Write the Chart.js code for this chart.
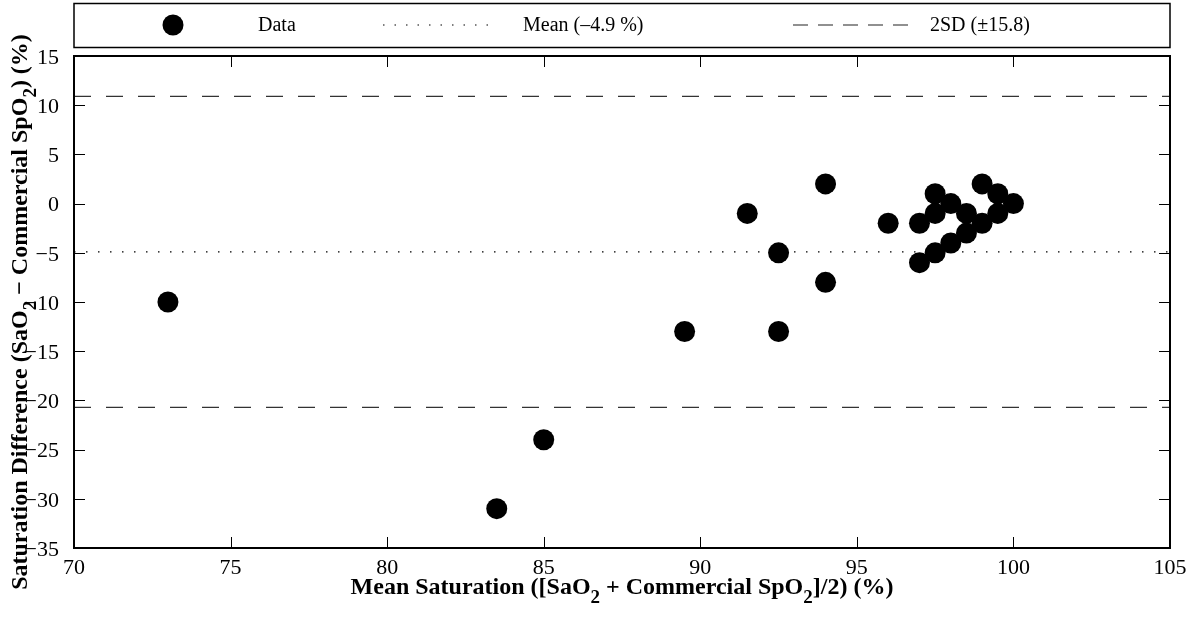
<!DOCTYPE html>
<html>
<head>
<meta charset="utf-8">
<script src="https://cdn.jsdelivr.net/npm/chart.js@4"></script>
<style>
  body { margin: 0; background: #fff; }
</style>
</head>
<body>
<canvas id="chart" width="1197" height="617"></canvas>
<script>
// Bland-Altman data: mean saturation vs difference
const meanSat = [73, 83.5, 85, 89.5, 91.5, 92.5, 92.5, 94, 94, 96, 97, 97, 97.5, 97.5, 97.5, 98, 98, 98.5, 98.5, 99, 99, 99.5, 99.5, 100];
const diffSat = [-10, -31, -24, -13, -1, -5, -13, 2, -8, -2, -2, -6, 1, -1, -5, 0, -4, -1, -3, 2, -2, 1, -1, 0];
const meanDiff = -4.9;
const twoSD = 15.8;
const xRange = [70, 105];
const yRange = [-35, 15];
const legendLabels = ['Data', 'Mean (\u20134.9 %)', '2SD (\u00b115.8)'];

const FONT = "'Liberation Serif', 'Times New Roman', serif";
const TICK = 11;

const points = meanSat.map((x, i) => ({ x: x, y: diffSat[i] }));
const flatLine = v => [{ x: xRange[0], y: v }, { x: xRange[1], y: v }];

// bold text with lowered subscripts, centred on x
function drawRich(ctx, parts, x, y, size) {
  const full = size + 'px';
  const sub = Math.round(size * 0.8) + 'px';
  let w = 0;
  parts.forEach(p => {
    ctx.font = 'bold ' + (p.sub ? sub : full) + ' ' + FONT;
    w += ctx.measureText(p.t).width;
  });
  let cx = x - w / 2;
  parts.forEach(p => {
    ctx.font = 'bold ' + (p.sub ? sub : full) + ' ' + FONT;
    ctx.fillText(p.t, cx, p.sub ? y + 9 : y);
    cx += ctx.measureText(p.t).width;
  });
}

const framePlugin = {
  id: 'frame',
  afterDraw(chart) {
    const ctx = chart.ctx;
    const a = chart.chartArea;
    const xs = chart.scales.x, ys = chart.scales.y;
    ctx.save();
    ctx.strokeStyle = '#000';
    ctx.lineWidth = 1;
    // inner ticks on all four sides
    ctx.beginPath();
    xs.ticks.forEach(t => {
      const px = Math.round(xs.getPixelForValue(t.value)) + 0.5;
      ctx.moveTo(px, a.bottom); ctx.lineTo(px, a.bottom - TICK);
      ctx.moveTo(px, a.top); ctx.lineTo(px, a.top + TICK);
    });
    ys.ticks.forEach(t => {
      const py = Math.round(ys.getPixelForValue(t.value)) + 0.5;
      ctx.moveTo(a.left, py); ctx.lineTo(a.left + TICK, py);
      ctx.moveTo(a.right, py); ctx.lineTo(a.right - TICK, py);
    });
    ctx.stroke();
    ctx.lineWidth = 2;
    ctx.strokeRect(a.left, a.top, a.right - a.left, a.bottom - a.top);

    // legend box
    ctx.lineWidth = 1.5;
    ctx.strokeRect(a.left, 3.5, a.right - a.left, 44);
    const ly = 25;
    ctx.fillStyle = '#000';
    ctx.beginPath();
    ctx.arc(173, ly, 10.5, 0, Math.PI * 2);
    ctx.fill();
    ctx.font = '20px ' + FONT;
    ctx.textBaseline = 'middle';
    ctx.fillText(legendLabels[0], 258, ly + 1);
    ctx.fillText(legendLabels[1], 523, ly + 1);
    ctx.fillText(legendLabels[2], 930, ly + 1);
    ctx.lineWidth = 1.2;
    ctx.setLineDash([1.5, 10]);
    ctx.beginPath(); ctx.moveTo(383, ly); ctx.lineTo(498, ly); ctx.stroke();
    ctx.setLineDash([15, 10]);
    ctx.strokeStyle = '#222';
    ctx.beginPath(); ctx.moveTo(793, ly); ctx.lineTo(911, ly); ctx.stroke();
    ctx.setLineDash([]);

    // axis titles with subscripts
    ctx.fillStyle = '#000';
    ctx.textBaseline = 'alphabetic';
    const cxMid = (a.left + a.right) / 2;
    drawRich(ctx, [
      { t: 'Mean Saturation ([SaO' }, { t: '2', sub: true },
      { t: ' + Commercial SpO' }, { t: '2', sub: true }, { t: ']/2) (%)' }
    ], cxMid, 594, 24);
    ctx.translate(27, 312);
    ctx.rotate(-Math.PI / 2);
    drawRich(ctx, [
      { t: 'Saturation Difference (SaO' }, { t: '2', sub: true },
      { t: ' \u2212 Commercial SpO' }, { t: '2', sub: true }, { t: ') (%)' }
    ], 0, 0, 24);
    ctx.restore();
  }
};

const minusLabel = v => (v < 0 ? '\u2212' + Math.abs(v) : String(v));

new Chart(document.getElementById('chart'), {
  type: 'scatter',
  data: {
    datasets: [
      {
        label: legendLabels[0],
        data: points,
        backgroundColor: '#000',
        borderWidth: 0,
        pointRadius: 10.5,
        pointHoverRadius: 10.5
      },
      {
        label: legendLabels[1],
        type: 'line',
        data: flatLine(meanDiff),
        borderColor: '#000',
        borderWidth: 1.2,
        borderDash: [1.5, 10.5],
        pointRadius: 0
      },
      {
        label: legendLabels[2],
        type: 'line',
        data: flatLine(meanDiff + twoSD),
        borderColor: '#333',
        borderWidth: 1.2,
        borderDash: [17, 15],
        pointRadius: 0
      },
      {
        label: legendLabels[2],
        type: 'line',
        data: flatLine(meanDiff - twoSD),
        borderColor: '#333',
        borderWidth: 1.2,
        borderDash: [17, 15],
        pointRadius: 0
      }
    ]
  },
  options: {
    responsive: false,
    animation: false,
    events: [],
    layout: { padding: { left: 0, right: 27, top: 56, bottom: 0 } },
    plugins: { legend: { display: false }, tooltip: { enabled: false } },
    scales: {
      x: {
        type: 'linear',
        min: xRange[0], max: xRange[1],
        grid: { display: false },
        border: { display: false },
        ticks: { stepSize: 5, padding: -1, color: '#000', font: { family: FONT, size: 22 }, callback: minusLabel, maxRotation: 0 },
        afterFit(s) { s.height = 69; }
      },
      y: {
        min: yRange[0], max: yRange[1],
        grid: { display: false },
        border: { display: false },
        ticks: { stepSize: 5, padding: 7, labelOffset: 2, color: '#000', font: { family: FONT, size: 22 }, callback: minusLabel },
        afterFit(s) { s.width = 74; }
      }
    }
  },
  plugins: [framePlugin]
});
</script>
</body>
</html>
